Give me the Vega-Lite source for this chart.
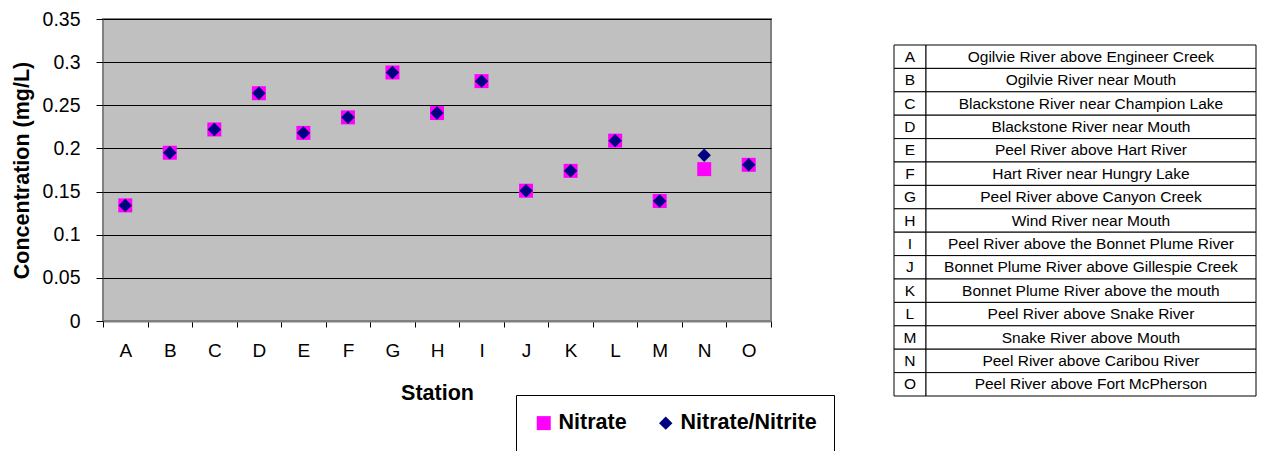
{
  "$schema": "https://vega.github.io/schema/vega-lite/v6.json",
  "background": "white",
  "padding": {"left": 10, "top": 8, "right": 0, "bottom": 0},
  "spacing": 120,
  "datasets": {
    "readings": [
      {"station": "A", "series": "Nitrate", "value": 0.134},
      {"station": "B", "series": "Nitrate", "value": 0.195},
      {"station": "C", "series": "Nitrate", "value": 0.222},
      {"station": "D", "series": "Nitrate", "value": 0.264},
      {"station": "E", "series": "Nitrate", "value": 0.218},
      {"station": "F", "series": "Nitrate", "value": 0.236},
      {"station": "G", "series": "Nitrate", "value": 0.288},
      {"station": "H", "series": "Nitrate", "value": 0.241},
      {"station": "I", "series": "Nitrate", "value": 0.278},
      {"station": "J", "series": "Nitrate", "value": 0.151},
      {"station": "K", "series": "Nitrate", "value": 0.174},
      {"station": "L", "series": "Nitrate", "value": 0.209},
      {"station": "M", "series": "Nitrate", "value": 0.139},
      {"station": "N", "series": "Nitrate", "value": 0.176},
      {"station": "O", "series": "Nitrate", "value": 0.181},
      {"station": "A", "series": "Nitrate/Nitrite", "value": 0.134},
      {"station": "B", "series": "Nitrate/Nitrite", "value": 0.195},
      {"station": "C", "series": "Nitrate/Nitrite", "value": 0.222},
      {"station": "D", "series": "Nitrate/Nitrite", "value": 0.264},
      {"station": "E", "series": "Nitrate/Nitrite", "value": 0.218},
      {"station": "F", "series": "Nitrate/Nitrite", "value": 0.236},
      {"station": "G", "series": "Nitrate/Nitrite", "value": 0.288},
      {"station": "H", "series": "Nitrate/Nitrite", "value": 0.241},
      {"station": "I", "series": "Nitrate/Nitrite", "value": 0.278},
      {"station": "J", "series": "Nitrate/Nitrite", "value": 0.151},
      {"station": "K", "series": "Nitrate/Nitrite", "value": 0.174},
      {"station": "L", "series": "Nitrate/Nitrite", "value": 0.209},
      {"station": "M", "series": "Nitrate/Nitrite", "value": 0.139},
      {"station": "N", "series": "Nitrate/Nitrite", "value": 0.192},
      {"station": "O", "series": "Nitrate/Nitrite", "value": 0.181}
    ],
    "stations": [
      {"code": "A", "name": "Ogilvie River above Engineer Creek"},
      {"code": "B", "name": "Ogilvie River near Mouth"},
      {"code": "C", "name": "Blackstone River near Champion Lake"},
      {"code": "D", "name": "Blackstone River near Mouth"},
      {"code": "E", "name": "Peel River above Hart River"},
      {"code": "F", "name": "Hart River near Hungry Lake"},
      {"code": "G", "name": "Peel River above Canyon Creek"},
      {"code": "H", "name": "Wind River near Mouth"},
      {"code": "I", "name": "Peel River above the Bonnet Plume River"},
      {"code": "J", "name": "Bonnet Plume River above Gillespie Creek"},
      {"code": "K", "name": "Bonnet Plume River above the mouth"},
      {"code": "L", "name": "Peel River above Snake River"},
      {"code": "M", "name": "Snake River above Mouth"},
      {"code": "N", "name": "Peel River above Caribou River"},
      {"code": "O", "name": "Peel River above Fort McPherson"}
    ]
  },
  "config": {
    "font": "Liberation Sans",
    "view": {"stroke": null},
    "axis": {"labelColor": "black", "titleColor": "black", "labelFont": "Liberation Sans", "titleFont": "Liberation Sans"},
    "legend": {"labelFont": "Liberation Sans"}
  },
  "hconcat": [
    {
      "width": 668,
      "height": 302,
      "data": {"name": "readings"},
      "view": {"fill": "#C0C0C0", "stroke": "#808080", "strokeWidth": 2},
      "mark": {"type": "point", "filled": true, "opacity": 1},
      "encoding": {
        "x": {
          "field": "station",
          "type": "nominal",
          "scale": {"paddingInner": 0, "paddingOuter": 0},
          "axis": {
            "title": "Station",
            "labelAngle": 0,
            "tickBand": "extent",
            "tickSize": 6,
            "tickColor": "black",
            "domainColor": "#808080",
            "domainWidth": 2,
            "labelFontSize": 19,
            "labelPadding": 14,
            "titleFontSize": 21.5,
            "titleFontWeight": "bold",
            "titlePadding": 22,
            "grid": false
          }
        },
        "y": {
          "field": "value",
          "type": "quantitative",
          "scale": {"domain": [0, 0.35], "nice": false, "zero": true},
          "axis": {
            "title": "Concentration (mg/L)",
            "values": [0, 0.05, 0.1, 0.15, 0.2, 0.25, 0.3, 0.35],
            "format": "~g",
            "domain": false,
            "grid": true,
            "gridColor": "black",
            "gridWidth": 1,
            "tickSize": 7,
            "tickColor": "black",
            "labelFontSize": 19.5,
            "labelPadding": 16,
            "titleFontSize": 21.5,
            "titleFontWeight": "bold",
            "titlePadding": 9
          }
        },
        "color": {
          "field": "series",
          "type": "nominal",
          "scale": {"domain": ["Nitrate", "Nitrate/Nitrite"], "range": ["#FF00FF", "#000080"]},
          "legend": {
            "title": null,
            "orient": "none",
            "legendX": 413,
            "legendY": 376,
            "direction": "horizontal",
            "strokeColor": "black",
            "fillColor": "white",
            "padding": 17,
            "labelFontSize": 21.5,
            "labelFontWeight": "bold",
            "labelColor": "black",
            "labelOffset": 4,
            "columnPadding": 28,
            "symbolSize": 196,
            "symbolStrokeWidth": 0
          }
        },
        "shape": {
          "field": "series",
          "type": "nominal",
          "scale": {"domain": ["Nitrate", "Nitrate/Nitrite"], "range": ["square", "diamond"]}
        },
        "size": {
          "field": "series",
          "type": "nominal",
          "scale": {"domain": ["Nitrate", "Nitrate/Nitrite"], "range": [196, 180]},
          "legend": null
        }
      }
    },
    {
      "width": 362,
      "height": 377,
      "data": {"name": "stations"},
      "encoding": {
        "y": {
          "field": "code",
          "type": "nominal",
          "scale": {"paddingInner": 0, "paddingOuter": 0, "range": [26, 377]},
          "axis": null
        }
      },
      "layer": [
        {
          "mark": {"type": "rect", "fill": "white", "stroke": "black", "strokeWidth": 1},
          "encoding": {
            "x": {"datum": 0, "type": "quantitative", "scale": {"domain": [0, 1]}, "axis": null},
            "x2": {"datum": 0.0884}
          }
        },
        {
          "mark": {"type": "rect", "fill": "white", "stroke": "black", "strokeWidth": 1},
          "encoding": {
            "x": {"datum": 0.0884, "type": "quantitative"},
            "x2": {"datum": 1}
          }
        },
        {
          "mark": {"type": "text", "fontSize": 15.5, "align": "center", "baseline": "middle", "color": "black"},
          "encoding": {
            "x": {"datum": 0.044, "type": "quantitative"},
            "text": {"field": "code"}
          }
        },
        {
          "mark": {"type": "text", "fontSize": 15.5, "align": "center", "baseline": "middle", "color": "black"},
          "encoding": {
            "x": {"datum": 0.544, "type": "quantitative"},
            "text": {"field": "name"}
          }
        }
      ]
    }
  ]
}
